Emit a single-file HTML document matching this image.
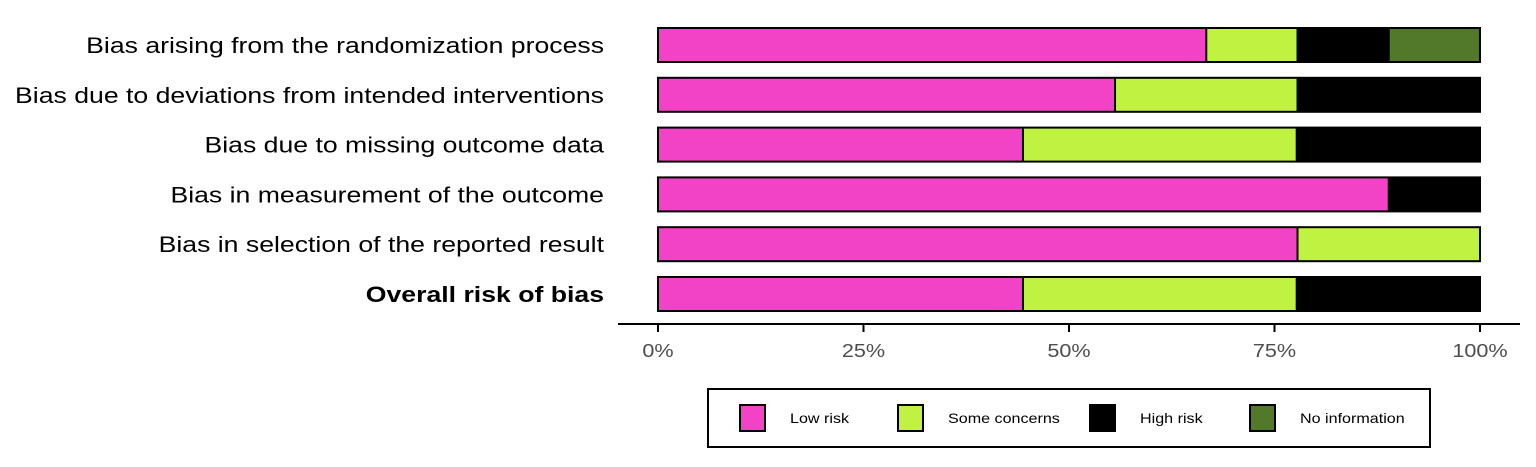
<!DOCTYPE html>
<html><head><meta charset="utf-8"><style>
body{margin:0;background:#fff;width:1536px;height:462px;overflow:hidden}
svg{font-family:"Liberation Sans",Arial,sans-serif}
</style></head><body>
<svg id="chart" width="1536" height="462" xmlns="http://www.w3.org/2000/svg">
<g id="bars"></g>
<g id="ylabels"></g>
<line x1="618" y1="324" x2="1520" y2="324" stroke="#000" stroke-width="2"/>
<g id="xticks"></g>
<g>
<rect x="708" y="389" width="722" height="58" fill="#fff" stroke="#000" stroke-width="2"/>
<g id="legend-items"></g>
</g>
</svg>
<script>
const categories=["Bias arising from the randomization process","Bias due to deviations from intended interventions","Bias due to missing outcome data","Bias in measurement of the outcome","Bias in selection of the reported result","Overall risk of bias"];
const lowRisk=[66.7,55.6,44.4,88.9,77.8,44.4];
const someConcerns=[11.1,22.2,33.3,0,22.2,33.3];
const highRisk=[11.1,22.2,22.2,11.1,0,22.2];
const noInfo=[11.1,0,0,0,0,0];
const xTicks=[0,25,50,75,100];
const legendLabels=["Low risk","Some concerns","High risk","No information"];
const colors=["#f243c6","#bff241","#000000","#52792a"];
const series=[lowRisk,someConcerns,highRisk,noInfo];
const NS="http://www.w3.org/2000/svg";
const x0=658,x1=1480;
const xs=v=>x0+(x1-x0)*v/100;
const yc=i=>45+i*49.8;
function stretch(t,f){const w=t.getComputedTextLength();t.setAttribute('textLength',w*f);t.setAttribute('lengthAdjust','spacingAndGlyphs');}
const bars=document.getElementById('bars'),yl=document.getElementById('ylabels');
categories.forEach((c,i)=>{
  let acc=0;
  series.forEach((s,k)=>{
    const v=s[i]; if(v<=0)return;
    const r=document.createElementNS(NS,'rect');
    r.setAttribute('x',xs(acc));r.setAttribute('width',xs(acc+v)-xs(acc));
    r.setAttribute('y',yc(i)-17);r.setAttribute('height',34);
    r.setAttribute('fill',colors[k]);
    
    
    bars.appendChild(r);acc+=v;
  });
  const o=document.createElementNS(NS,'rect');
  o.setAttribute('x',xs(0));o.setAttribute('width',xs(100)-xs(0));
  o.setAttribute('y',yc(i)-17);o.setAttribute('height',34);
  o.setAttribute('fill','none');o.setAttribute('stroke','#000');o.setAttribute('stroke-width','2');
  
  
  bars.appendChild(o);
  let a=0;
  series.forEach((s,k)=>{a+=s[i]; if(s[i]>0&&a<99.9){const l=document.createElementNS(NS,'line');l.setAttribute('x1',xs(a));l.setAttribute('x2',xs(a));l.setAttribute('y1',yc(i)-17);l.setAttribute('y2',yc(i)+17);l.setAttribute('stroke','#000');l.setAttribute('stroke-width','2');bars.appendChild(l);}});
  const t=document.createElementNS(NS,'text');
  t.setAttribute('x',604);t.setAttribute('y',yc(i)+8);t.setAttribute('text-anchor','end');
  t.setAttribute('font-size','22');
  if(i===categories.length-1)t.setAttribute('font-weight','bold');
  t.textContent=c;
  
  
  yl.appendChild(t);
  stretch(t,1.21);
});
const xt=document.getElementById('xticks');
xTicks.forEach(v=>{
  const l=document.createElementNS(NS,'line');
  l.setAttribute('x1',xs(v));l.setAttribute('x2',xs(v));l.setAttribute('y1',324);l.setAttribute('y2',332);l.setAttribute('stroke','#000');l.setAttribute('stroke-width','2');
  
  
  xt.appendChild(l);
  const t=document.createElementNS(NS,'text');
  t.setAttribute('x',xs(v));t.setAttribute('y',357);t.setAttribute('text-anchor','middle');
  t.setAttribute('font-size','18');t.setAttribute('fill','#4d4d4d');
  t.textContent=v+'%';
  
  
  xt.appendChild(t);
  stretch(t,1.2);
});
const li=document.getElementById('legend-items');
const kx=[740,898,1090,1250];
legendLabels.forEach((lab,k)=>{
  const r=document.createElementNS(NS,'rect');
  r.setAttribute('x',kx[k]);r.setAttribute('y',405);r.setAttribute('width',25);r.setAttribute('height',26);
  r.setAttribute('fill',colors[k]);r.setAttribute('stroke','#000');r.setAttribute('stroke-width','2');
  
  
  li.appendChild(r);
  const t=document.createElementNS(NS,'text');
  t.setAttribute('x',kx[k]+50);t.setAttribute('y',423);t.setAttribute('font-size','14');
  t.textContent=lab;
  
  
  li.appendChild(t);
  stretch(t,1.15);
});
</script>
</body></html>
